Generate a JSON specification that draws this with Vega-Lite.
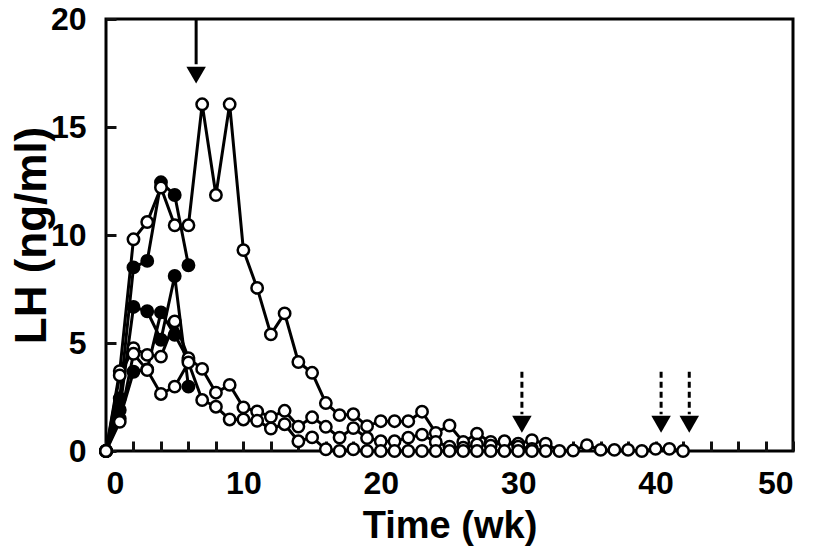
{
  "$schema": "https://vega.github.io/schema/vega-lite/v6.json",
  "width": 687,
  "height": 432,
  "autosize": {"type": "none"},
  "padding": {"left": 106, "top": 19, "right": 23, "bottom": 105},
  "background": "white",
  "config": {
    "view": {"stroke": "black", "strokeWidth": 3},
    "axis": {
      "domain": false,
      "grid": false,
      "labelFont": "Liberation Sans",
      "labelFontWeight": "bold",
      "labelFontSize": 32,
      "labelColor": "black",
      "titleFont": "Liberation Sans",
      "titleFontWeight": "bold",
      "titleColor": "black"
    }
  },
  "datasets": {
    "lh": [
      {"animal": "F1", "group": "filled", "week": 0, "lh": 0},
      {"animal": "F1", "group": "filled", "week": 1, "lh": 2.44},
      {"animal": "F1", "group": "filled", "week": 2, "lh": 8.5},
      {"animal": "F1", "group": "filled", "week": 3, "lh": 8.8},
      {"animal": "F1", "group": "filled", "week": 4, "lh": 12.44},
      {"animal": "F1", "group": "filled", "week": 5, "lh": 11.85},
      {"animal": "F1", "group": "filled", "week": 6, "lh": 8.6},
      {"animal": "F2", "group": "filled", "week": 0, "lh": 0},
      {"animal": "F2", "group": "filled", "week": 1, "lh": 1.9},
      {"animal": "F2", "group": "filled", "week": 2, "lh": 6.67},
      {"animal": "F2", "group": "filled", "week": 3, "lh": 6.47},
      {"animal": "F2", "group": "filled", "week": 4, "lh": 5.15},
      {"animal": "F2", "group": "filled", "week": 5, "lh": 8.1},
      {"animal": "F2", "group": "filled", "week": 6, "lh": 2.98},
      {"animal": "F3", "group": "filled", "week": 0, "lh": 0},
      {"animal": "F3", "group": "filled", "week": 1, "lh": 1.5},
      {"animal": "F3", "group": "filled", "week": 2, "lh": 3.67},
      {"animal": "F3", "group": "filled", "week": 3, "lh": 3.78},
      {"animal": "F3", "group": "filled", "week": 4, "lh": 6.42},
      {"animal": "F3", "group": "filled", "week": 5, "lh": 5.38},
      {"animal": "F3", "group": "filled", "week": 6, "lh": 4.2},
      {"animal": "O1", "group": "open", "week": 0, "lh": 0},
      {"animal": "O1", "group": "open", "week": 1, "lh": 3.7},
      {"animal": "O1", "group": "open", "week": 2, "lh": 9.8},
      {"animal": "O1", "group": "open", "week": 3, "lh": 10.6},
      {"animal": "O1", "group": "open", "week": 4, "lh": 12.2},
      {"animal": "O1", "group": "open", "week": 5, "lh": 10.45},
      {"animal": "O1", "group": "open", "week": 6, "lh": 10.45},
      {"animal": "O1", "group": "open", "week": 7, "lh": 16.05},
      {"animal": "O1", "group": "open", "week": 8, "lh": 11.85},
      {"animal": "O1", "group": "open", "week": 9, "lh": 16.05},
      {"animal": "O1", "group": "open", "week": 10, "lh": 9.3},
      {"animal": "O1", "group": "open", "week": 11, "lh": 7.55},
      {"animal": "O1", "group": "open", "week": 12, "lh": 5.4},
      {"animal": "O1", "group": "open", "week": 13, "lh": 6.37},
      {"animal": "O1", "group": "open", "week": 14, "lh": 4.12},
      {"animal": "O1", "group": "open", "week": 15, "lh": 3.62},
      {"animal": "O1", "group": "open", "week": 16, "lh": 2.22},
      {"animal": "O1", "group": "open", "week": 17, "lh": 1.66},
      {"animal": "O1", "group": "open", "week": 18, "lh": 1.7},
      {"animal": "O1", "group": "open", "week": 19, "lh": 1.15},
      {"animal": "O1", "group": "open", "week": 20, "lh": 1.38},
      {"animal": "O1", "group": "open", "week": 21, "lh": 1.38},
      {"animal": "O1", "group": "open", "week": 22, "lh": 1.38},
      {"animal": "O1", "group": "open", "week": 23, "lh": 1.82},
      {"animal": "O1", "group": "open", "week": 24, "lh": 0.84},
      {"animal": "O1", "group": "open", "week": 25, "lh": 1.18},
      {"animal": "O1", "group": "open", "week": 26, "lh": 0.42},
      {"animal": "O1", "group": "open", "week": 27, "lh": 0.8},
      {"animal": "O1", "group": "open", "week": 28, "lh": 0.42},
      {"animal": "O1", "group": "open", "week": 29, "lh": 0.42},
      {"animal": "O1", "group": "open", "week": 30, "lh": 0.34},
      {"animal": "O1", "group": "open", "week": 31, "lh": 0.5},
      {"animal": "O1", "group": "open", "week": 32, "lh": 0.34},
      {"animal": "O1", "group": "open", "week": 33, "lh": 0},
      {"animal": "O1", "group": "open", "week": 34, "lh": 0.02},
      {"animal": "O1", "group": "open", "week": 35, "lh": 0.27},
      {"animal": "O1", "group": "open", "week": 36, "lh": 0.05},
      {"animal": "O1", "group": "open", "week": 37, "lh": 0.05},
      {"animal": "O1", "group": "open", "week": 38, "lh": 0.05},
      {"animal": "O1", "group": "open", "week": 39, "lh": 0},
      {"animal": "O1", "group": "open", "week": 40, "lh": 0.1},
      {"animal": "O1", "group": "open", "week": 41, "lh": 0.1},
      {"animal": "O1", "group": "open", "week": 42, "lh": 0},
      {"animal": "O2", "group": "open", "week": 0, "lh": 0},
      {"animal": "O2", "group": "open", "week": 1, "lh": 3.5},
      {"animal": "O2", "group": "open", "week": 2, "lh": 4.76},
      {"animal": "O2", "group": "open", "week": 3, "lh": 4.45},
      {"animal": "O2", "group": "open", "week": 4, "lh": 4.37},
      {"animal": "O2", "group": "open", "week": 5, "lh": 6.0},
      {"animal": "O2", "group": "open", "week": 6, "lh": 4.3},
      {"animal": "O2", "group": "open", "week": 7, "lh": 3.8},
      {"animal": "O2", "group": "open", "week": 8, "lh": 2.7},
      {"animal": "O2", "group": "open", "week": 9, "lh": 3.06},
      {"animal": "O2", "group": "open", "week": 10, "lh": 2.02},
      {"animal": "O2", "group": "open", "week": 11, "lh": 1.83},
      {"animal": "O2", "group": "open", "week": 12, "lh": 1.58},
      {"animal": "O2", "group": "open", "week": 13, "lh": 1.86},
      {"animal": "O2", "group": "open", "week": 14, "lh": 1.13},
      {"animal": "O2", "group": "open", "week": 15, "lh": 1.56},
      {"animal": "O2", "group": "open", "week": 16, "lh": 1.12},
      {"animal": "O2", "group": "open", "week": 17, "lh": 0.62},
      {"animal": "O2", "group": "open", "week": 18, "lh": 1.06},
      {"animal": "O2", "group": "open", "week": 19, "lh": 0.6},
      {"animal": "O2", "group": "open", "week": 20, "lh": 0.45},
      {"animal": "O2", "group": "open", "week": 21, "lh": 0.45},
      {"animal": "O2", "group": "open", "week": 22, "lh": 0.62},
      {"animal": "O2", "group": "open", "week": 23, "lh": 0.76},
      {"animal": "O2", "group": "open", "week": 24, "lh": 0.42},
      {"animal": "O2", "group": "open", "week": 25, "lh": 0.2},
      {"animal": "O2", "group": "open", "week": 26, "lh": 0.15},
      {"animal": "O2", "group": "open", "week": 27, "lh": 0.3},
      {"animal": "O2", "group": "open", "week": 28, "lh": 0.25},
      {"animal": "O2", "group": "open", "week": 29, "lh": 0.45},
      {"animal": "O2", "group": "open", "week": 30, "lh": 0.2},
      {"animal": "O2", "group": "open", "week": 31, "lh": 0.1},
      {"animal": "O2", "group": "open", "week": 32, "lh": 0},
      {"animal": "O3", "group": "open", "week": 0, "lh": 0},
      {"animal": "O3", "group": "open", "week": 1, "lh": 1.35},
      {"animal": "O3", "group": "open", "week": 2, "lh": 4.5},
      {"animal": "O3", "group": "open", "week": 3, "lh": 3.75},
      {"animal": "O3", "group": "open", "week": 4, "lh": 2.64},
      {"animal": "O3", "group": "open", "week": 5, "lh": 2.98},
      {"animal": "O3", "group": "open", "week": 6, "lh": 4.1},
      {"animal": "O3", "group": "open", "week": 7, "lh": 2.36},
      {"animal": "O3", "group": "open", "week": 8, "lh": 2.05},
      {"animal": "O3", "group": "open", "week": 9, "lh": 1.46},
      {"animal": "O3", "group": "open", "week": 10, "lh": 1.46},
      {"animal": "O3", "group": "open", "week": 11, "lh": 1.4},
      {"animal": "O3", "group": "open", "week": 12, "lh": 1.04},
      {"animal": "O3", "group": "open", "week": 13, "lh": 1.24},
      {"animal": "O3", "group": "open", "week": 14, "lh": 0.45},
      {"animal": "O3", "group": "open", "week": 15, "lh": 0.63},
      {"animal": "O3", "group": "open", "week": 16, "lh": 0.08},
      {"animal": "O3", "group": "open", "week": 17, "lh": 0},
      {"animal": "O3", "group": "open", "week": 18, "lh": 0.08},
      {"animal": "O3", "group": "open", "week": 19, "lh": 0},
      {"animal": "O3", "group": "open", "week": 20, "lh": 0},
      {"animal": "O3", "group": "open", "week": 21, "lh": 0},
      {"animal": "O3", "group": "open", "week": 22, "lh": 0},
      {"animal": "O3", "group": "open", "week": 23, "lh": 0},
      {"animal": "O3", "group": "open", "week": 24, "lh": 0},
      {"animal": "O3", "group": "open", "week": 25, "lh": 0},
      {"animal": "O3", "group": "open", "week": 26, "lh": 0},
      {"animal": "O3", "group": "open", "week": 27, "lh": 0},
      {"animal": "O3", "group": "open", "week": 28, "lh": 0},
      {"animal": "O3", "group": "open", "week": 29, "lh": 0},
      {"animal": "O3", "group": "open", "week": 30, "lh": 0},
      {"animal": "O3", "group": "open", "week": 31, "lh": 0}
    ],
    "arrows": [
      {"week": 6.56, "top": 20, "bottom": 17.9, "head": 17.4, "kind": "solid"},
      {"week": 30.27, "top": 3.67, "bottom": 1.7, "head": 1.24, "kind": "dashed"},
      {"week": 40.4, "top": 3.67, "bottom": 1.7, "head": 1.24, "kind": "dashed"},
      {"week": 42.45, "top": 3.67, "bottom": 1.7, "head": 1.24, "kind": "dashed"}
    ]
  },
  "resolve": {"axis": {"x": "independent", "y": "independent"}},
  "layer": [
    {
      "data": {"name": "lh"},
      "mark": {"type": "line", "color": "black", "strokeWidth": 3},
      "encoding": {
        "x": {
          "field": "week", "type": "quantitative",
          "scale": {"domain": [0, 50], "nice": false},
          "axis": {
            "orient": "bottom",
            "ticks": true,
            "tickColor": "#111111",
            "tickSize": 10,
            "tickWidth": 3,
            "offset": -10,
            "values": [0, 2, 4, 6, 8, 10, 12, 14, 16, 18, 20, 22, 24, 26, 28, 30, 32, 34, 36, 38, 40, 42, 44, 46, 48, 50],
            "labelExpr": "datum.value % 10 === 0 ? datum.label : ''",
            "labelPadding": 17,
            "title": "Time (wk)",
            "titleFontSize": 38,
            "titlePadding": 8
          }
        },
        "y": {
          "field": "lh", "type": "quantitative",
          "scale": {"domain": [0, 20], "nice": false},
          "axis": {
            "orient": "left",
            "ticks": true,
            "tickColor": "#111111",
            "tickSize": -10,
            "tickWidth": 3,
            "values": [0, 5, 10, 15, 20],
            "labelPadding": 30,
            "title": "LH (ng/ml)",
            "titleFontSize": 44,
            "titlePadding": -4
          }
        },
        "detail": {"field": "animal"}
      }
    },
    {
      "data": {"name": "lh"},
      "mark": {"type": "point", "shape": "circle", "filled": true, "stroke": "black", "strokeWidth": 2.5, "size": 130, "opacity": 1},
      "encoding": {
        "x": {"field": "week", "type": "quantitative", "axis": null},
        "y": {"field": "lh", "type": "quantitative", "axis": null},
        "fill": {
          "field": "group", "type": "nominal",
          "scale": {"domain": ["filled", "open"], "range": ["black", "white"]},
          "legend": null
        }
      }
    },
    {
      "data": {"name": "arrows"},
      "mark": {"type": "rule", "color": "black", "strokeWidth": 3},
      "encoding": {
        "x": {"field": "week", "type": "quantitative", "axis": null},
        "y": {"field": "top", "type": "quantitative", "axis": null},
        "y2": {"field": "bottom"},
        "strokeDash": {
          "field": "kind", "type": "nominal",
          "scale": {"domain": ["solid", "dashed"], "range": [[1, 0], [6, 4]]},
          "legend": null
        }
      }
    },
    {
      "data": {"name": "arrows"},
      "mark": {"type": "point", "shape": "triangle-down", "filled": true, "color": "black", "size": 380, "opacity": 1},
      "encoding": {
        "x": {"field": "week", "type": "quantitative", "axis": null},
        "y": {"field": "head", "type": "quantitative", "axis": null}
      }
    }
  ]
}
